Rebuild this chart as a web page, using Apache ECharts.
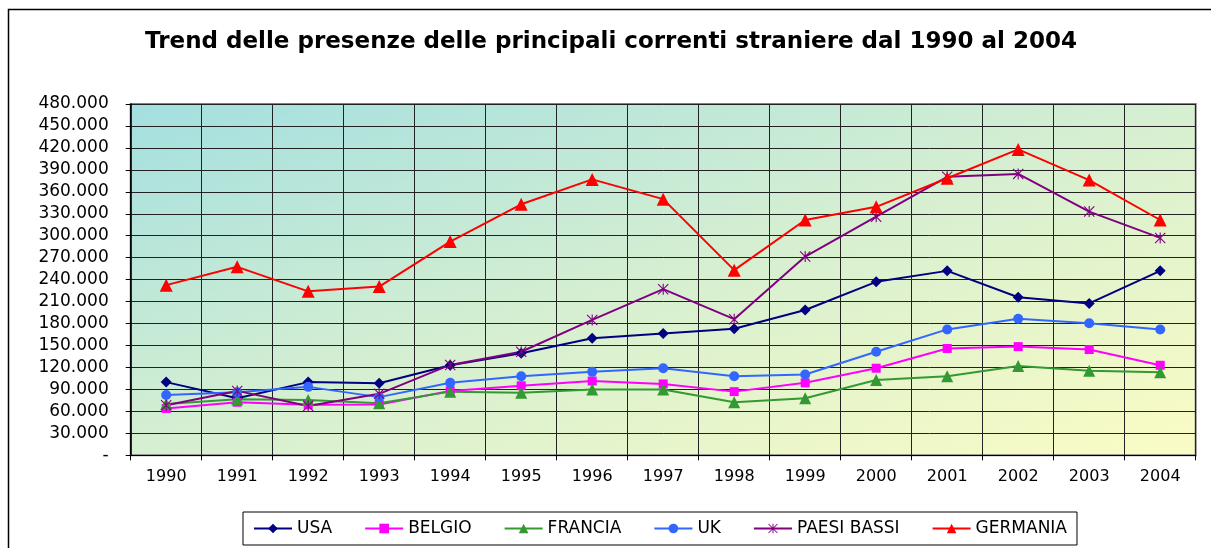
<!DOCTYPE html>
<html>
<head>
<meta charset="utf-8">
<script src="https://cdn.jsdelivr.net/npm/echarts@6/dist/echarts.min.js"></script>
<style>html,body{margin:0;padding:0;background:#fff;}#c{width:1211px;height:548px;}</style>
</head>
<body>
<div id="c"></div>
<script>
const titleText = 'Trend delle presenze delle principali correnti straniere dal 1990 al 2004';
const years = ['1990','1991','1992','1993','1994','1995','1996','1997','1998','1999','2000','2001','2002','2003','2004'];
const usa = [100000, 78000, 100000, 98500, 123000, 139500, 160000, 166500, 173000, 198500, 237000, 252000, 216000, 207500, 252000];
const belgio = [64000, 72500, 69000, 69500, 88000, 95000, 101500, 97500, 87000, 99000, 119000, 146000, 148500, 144500, 123000];
const francia = [70000, 76500, 75500, 71000, 87000, 85500, 90000, 90000, 72500, 78000, 103000, 108000, 122000, 115500, 113500];
const uk = [82500, 86000, 93500, 79500, 99000, 108000, 114000, 119000, 108000, 110500, 141500, 172000, 186500, 180500, 172000];
const paesiBassi = [68500, 88000, 67500, 84000, 123500, 141500, 185000, 227000, 186000, 271500, 326000, 380500, 384500, 333000, 297000];
const germania = [232500, 257500, 224000, 230500, 292000, 343000, 377000, 350000, 253000, 321500, 339500, 378500, 418000, 376000, 321500];
const seriesNames = ['USA','BELGIO','FRANCIA','UK','PAESI BASSI','GERMANIA'];

const starPath = 'path://M9,0L11,0L11,20L9,20Z M0,1.4L1.4,0L20,18.6L18.6,20Z M18.6,0L20,1.4L1.4,20L0,18.6Z';

function mk(name, data, color, symbol, size) {
  return {
    name: name, type: 'line', data: data, symbol: symbol, symbolSize: size,
    showAllSymbol: true,
    lineStyle: {color: color, width: 2},
    itemStyle: {color: color, borderColor: color, borderWidth: 0},
    emphasis: {disabled: true},
    animation: false
  };
}

const chart = echarts.init(document.getElementById('c'), null, {renderer: 'canvas'});
chart.setOption({
  backgroundColor: '#ffffff',
  animation: false,
  title: {
    text: titleText, left: 606, top: 26, textAlign: 'center',
    textStyle: {fontFamily: 'DejaVu Sans', fontWeight: 'bold', fontSize: 23, color: '#000'}
  },
  graphic: [{
    type: 'rect', left: 6, top: 7, z: -1,
    shape: {width: 1215, height: 560},
    style: {fill: 'none', stroke: '#000', lineWidth: 1.5}
  }],
  legend: {
    data: seriesNames, left: 243, top: 512, orient: 'horizontal',
    padding: [8, 10], itemGap: 32, itemWidth: 38, itemHeight: 12,
    borderColor: '#000', borderWidth: 1, backgroundColor: '#fff',
    textStyle: {fontFamily: 'DejaVu Sans', fontSize: 17, color: '#000'}
  },
  grid: {
    left: 130.7, right: 15.3, top: 104, bottom: 92.7, containLabel: false,
    show: true, borderColor: '#808080', borderWidth: 2,
    backgroundColor: new echarts.graphic.LinearGradient(0, 0, 0.196, 1.804, [
      {offset: 0, color: '#a3dfe0'},
      {offset: 0.5, color: '#d6efd1'},
      {offset: 1, color: '#fbfcc4'}
    ])
  },
  xAxis: {
    type: 'category', data: years, boundaryGap: true,
    axisLine: {show: true, lineStyle: {color: '#000', width: 1}},
    axisTick: {show: true, length: 5, inside: false, alignWithLabel: false, lineStyle: {color: '#000'}},
    axisLabel: {margin: 14, color: '#000', fontFamily: 'DejaVu Sans', fontSize: 16},
    splitLine: {show: true, interval: 0, lineStyle: {color: '#222', width: 1}}
  },
  yAxis: {
    type: 'value', min: 0, max: 480000, interval: 30000,
    axisLine: {show: true, lineStyle: {color: '#000', width: 1.5}},
    axisTick: {show: true, length: 5, inside: false, lineStyle: {color: '#000'}},
    axisLabel: {
      margin: 22, color: '#000', fontFamily: 'DejaVu Sans', fontSize: 17,
      formatter: function (v) { return v === 0 ? '-' : (v / 1000) + '.000'; }
    },
    splitLine: {show: true, lineStyle: {color: '#222', width: 1}}
  },
  series: [
    mk('USA', usa, '#000080', 'diamond', 11),
    mk('BELGIO', belgio, '#ff00ff', 'rect', 9),
    mk('FRANCIA', francia, '#339933', 'triangle', 12),
    mk('UK', uk, '#3366ff', 'circle', 10),
    mk('PAESI BASSI', paesiBassi, '#800080', starPath, 11),
    mk('GERMANIA', germania, '#ff0000', 'triangle', 13)
  ]
});
</script>
</body>
</html>
